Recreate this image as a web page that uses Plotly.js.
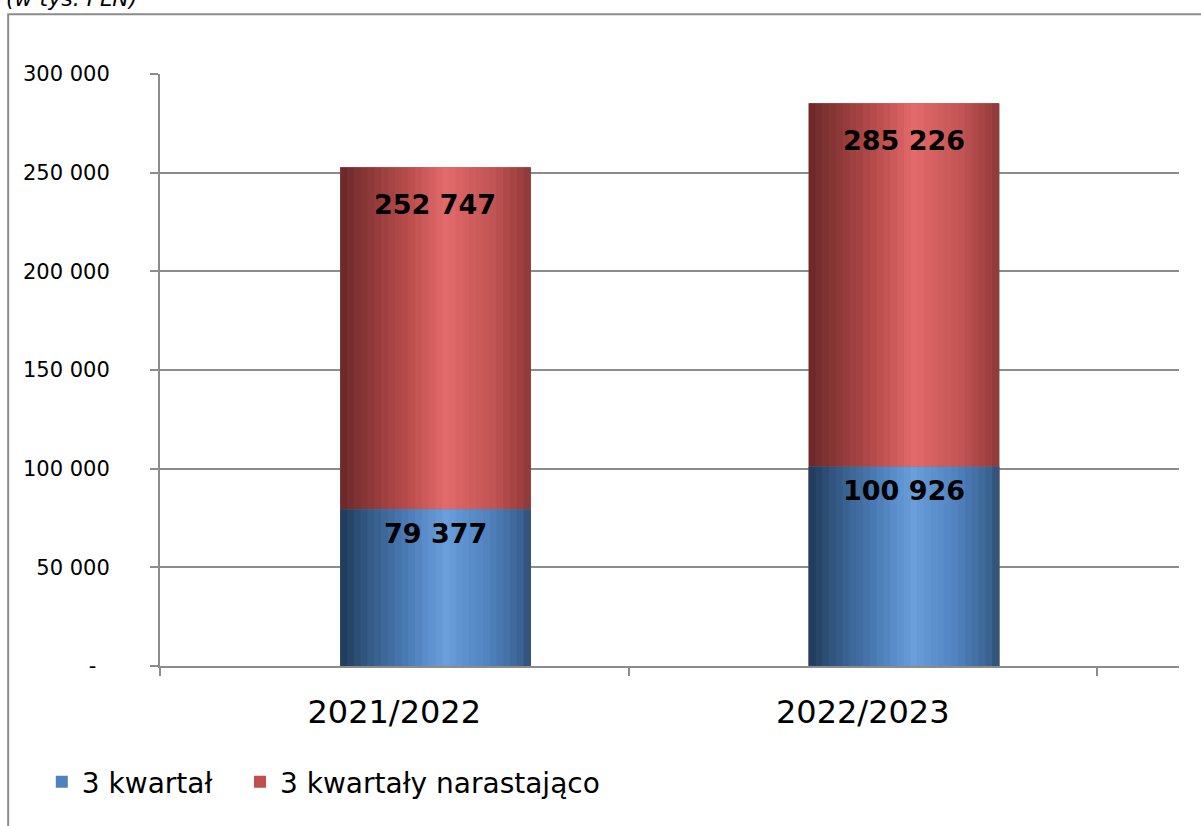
<!DOCTYPE html>
<html>
<head>
<meta charset="utf-8">
<script src="https://cdn.plot.ly/plotly-3.0.1.min.js"></script>
<style>html,body{margin:0;padding:0;background:#fff;}#chart{width:1201px;height:826px;}</style>
</head>
<body>
<div id="chart"></div>
<script>
// ---- data ----
const categories = ["2021/2022", "2022/2023"];
const kwartal3 = [79377, 100926];               // 3 kwartał
const narastajaco = [252747, 285226];           // 3 kwartały narastająco
const seriesNames = ["3 kwartał", "3 kwartały narastająco"];
const yTickVals = [0, 50000, 100000, 150000, 200000, 250000, 300000];
const yTickText = ["-\u00a0\u00a0", "50 000", "100 000", "150 000", "200 000", "250 000", "300 000"];
const labelText = v => String(v).replace(/\B(?=(\d{3})+(?!\d))/g, " ");

// ---- style ----
const BAR_W = 0.406, BAR_OFF = -0.1154, N = 28;
const blueStops = [[0,"#1f3a5a"],[0.15,"#345a85"],[0.35,"#4a7bb5"],[0.55,"#6a9fdc"],[0.8,"#4d7fbb"],[0.95,"#3b6290"],[1,"#2e4d72"]];
const redStops  = [[0,"#6a2828"],[0.15,"#8c3838"],[0.35,"#b84b4b"],[0.55,"#e36a6a"],[0.8,"#c25454"],[0.95,"#9e4040"],[1,"#8a3a3a"]];
function hex(h){return [1,3,5].map(i=>parseInt(h.substr(i,2),16));}
function shade(stops,t){
  for(let i=0;i<stops.length-1;i++){
    const [a,ca]=stops[i],[b,cb]=stops[i+1];
    if(t>=a&&t<=b){const f=(t-a)/(b-a);const A=hex(ca),B=hex(cb);
      return "rgb("+A.map((v,k)=>Math.round(v+(B[k]-v)*f)).join(",")+")";}
  }
  return stops[stops.length-1][1];
}
const traces = [];
function addSeries(name, vals, base, stops, legendId){
  traces.push({type:"bar", name:name, x:categories, y:vals, width:BAR_W, offset:BAR_OFF,
    marker:{color:base, line:{width:0}}, legend:legendId, hoverinfo:"skip"});
  for(let i=0;i<N;i++){
    const t=(i+0.5)/N;
    traces.push({type:"bar", x:categories, y:vals, width:BAR_W/N*1.08, offset:BAR_OFF+i*BAR_W/N,
      marker:{color:shade(stops,t), line:{width:0}}, showlegend:false, hoverinfo:"skip"});
  }
}
addSeries(seriesNames[1], narastajaco, "#c0504d", redStops, "legend2");
addSeries(seriesNames[0], kwartal3, "#4f81bd", blueStops, "legend");

const annotations = [];
categories.forEach((c,i)=>{
  annotations.push({x:c, y:narastajaco[i], xref:"x", yref:"y", text:labelText(narastajaco[i]),
    showarrow:false, xshift:41, yshift:-37, yanchor:"middle",
    font:{family:"DejaVu Sans", size:27, color:"#000", weight:"bold"}});
  annotations.push({x:c, y:kwartal3[i], xref:"x", yref:"y", text:labelText(kwartal3[i]),
    showarrow:false, xshift:41, yshift:-24, yanchor:"middle",
    font:{family:"DejaVu Sans", size:27, color:"#000", weight:"bold"}});
});
annotations.push({xref:"paper", yref:"paper", x:-0.153, y:1.128, xanchor:"left", yanchor:"middle",
  text:"<i>(w tys. PLN)</i>", showarrow:false, font:{family:"DejaVu Sans", size:22, color:"#000"}});

const legendStyle = {orientation:"h", xanchor:"left", y:-0.196, yanchor:"middle",
  font:{size:28, family:"DejaVu Sans", color:"#000"}, bgcolor:"rgba(0,0,0,0)", itemwidth:30};

const layout = {
  width:1201, height:826,
  margin:{l:160, r:22, t:74, b:160, pad:0},
  paper_bgcolor:"#fff", plot_bgcolor:"#fff",
  barmode:"overlay",
  font:{family:"DejaVu Sans", color:"#000"},
  xaxis:{type:"category", range:[-0.5, 1.675], tickson:"boundaries", ticks:"outside", ticklen:8,
    tickwidth:2, tickcolor:"#8c8c8c", showline:true, linecolor:"#8c8c8c", linewidth:2,
    showgrid:false, zeroline:false, tickfont:{size:32, family:"DejaVu Sans", color:"#000"},
    ticklabelstandoff:17, fixedrange:true},
  yaxis:{range:[0,300000], tickvals:yTickVals, ticktext:yTickText, ticks:"outside", ticklen:8,
    tickwidth:2, tickcolor:"#8c8c8c", showline:true, linecolor:"#8c8c8c", linewidth:2,
    showgrid:true, gridcolor:"#8c8c8c", gridwidth:2, zeroline:false,
    tickfont:{size:21, family:"DejaVu Sans", color:"#000"}, ticklabelstandoff:36, fixedrange:true},
  legend:Object.assign({}, legendStyle, {x:-0.116}),
  legend2:Object.assign({}, legendStyle, {x:0.0785}),
  annotations:annotations,
  shapes:[{type:"rect", xref:"paper", yref:"paper", x0:-0.149, x1:1.2, y0:-0.5, y1:1.101,
    line:{color:"#8c8c8c", width:2}, fillcolor:"rgba(0,0,0,0)", layer:"below"}],
  showlegend:true
};
Plotly.newPlot("chart", traces, layout, {staticPlot:true, displayModeBar:false});
</script>
</body>
</html>
